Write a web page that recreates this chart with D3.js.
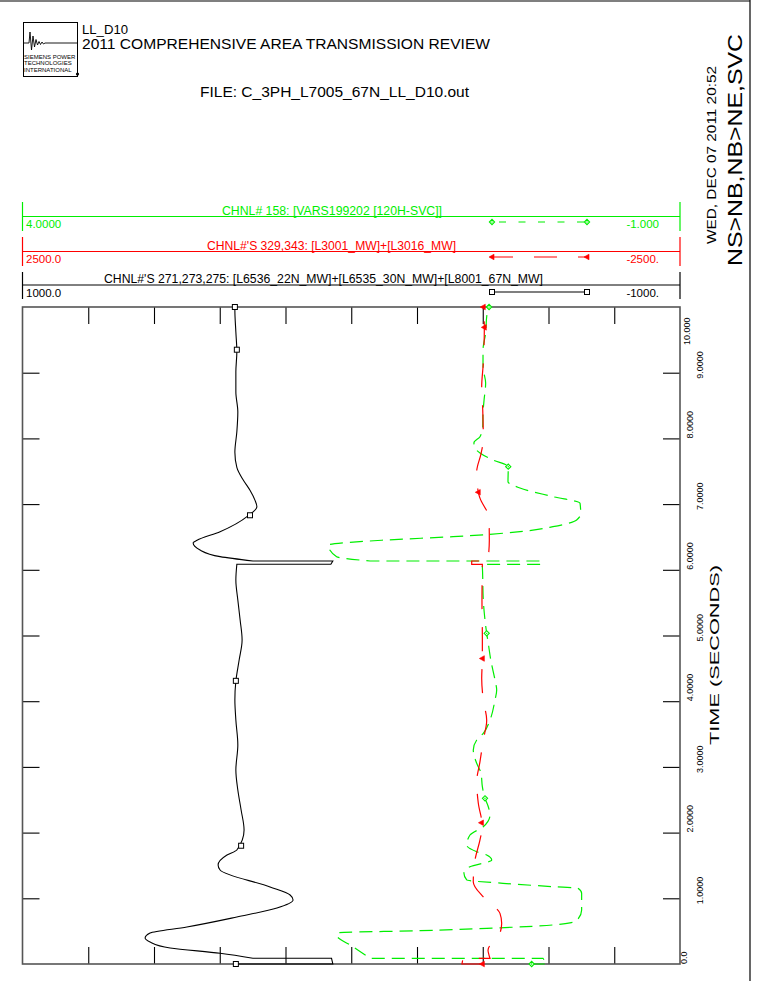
<!DOCTYPE html>
<html><head><meta charset="utf-8">
<script src="https://cdn.jsdelivr.net/npm/d3@7"></script>
<style>
html,body{margin:0;padding:0;background:#fff;}
svg{display:block;font-family:"Liberation Sans",Arial,Helvetica,sans-serif;}
</style>
</head><body>
<svg id="c" width="764" height="981"></svg>
<script>
// ---------------- DATA ----------------
const timeTicks = [0,1,2,3,4,5,6,7,8,9,10];
const timeTickLabels = ["0.0","1.0000","2.0000","3.0000","4.0000","5.0000","6.0000","7.0000","8.0000","9.0000","10.000"];

// Channel 1 (black): sum of three line flows, MW ; scale 1000 .. -1000
const blackT = [0,0,0.087,0.087,0.163,0.244,0.335,0.396,0.472,0.563,0.715,0.852,0.974,1.050,1.172,1.431,1.507,1.659,1.735,
  2.04,2.344,2.648,2.953,3.333,3.714,4.018,4.307,4.627,4.932,5.236,5.540,5.845,6.084,6.084,6.134,6.134,
  6.20,6.30,6.41,6.45,6.58,6.82,6.96,7.06,7.21,7.37,7.56,7.79,8.10,8.40,8.71,9.01,9.32,9.62,9.95,10];
const blackV = [351,56,60,299,399,551,612,627,612,500,348,226,177,186,247,399,405,378,348,
  326,335,345,351,345,351,354,351,341,332,338,345,351,348,62,56,299,
  399,460,481,469,399,314,287,293,308,329,348,354,348,345,351,351,348,351,354,354];
const blackMarkT = [0,1.80,4.31,6.83,9.35,10];
const blackMarkV = [351,335,351,308,348,354];

// Channel 2 (red): L3001 + L3016 MW ; scale 2500 .. -2500
const redT = [0,0,0.087,0.087,0.14,0.21,0.47,0.62,0.77,1.02,1.25,1.58,1.89,2.09,2.45,2.77,3.08,3.41,3.71,4.02,4.35,4.65,4.98,5.54,6.084,6.084,6.134,6.134,
  6.45,6.79,7.09,7.18,7.49,7.77,7.98,8.43,8.79,9.14,9.69,10];
const redV = [-997,-842,-850,-1055,-1047,-1040,-1131,-1144,-1131,-1004,-928,-941,-979,-997,-966,-954,-979,-1004,-1030,-1004,-992,-997,-997,-994,-997,-916,-916,-1040,
  -1050,-1047,-979,-966,-954,-987,-1004,-1000,-992,-1004,-1012,-1004];
const redMarkT = [0,2.15,4.65,7.18,9.69,10];
const redMarkV = [-997,-990,-997,-966,-1012,-1004];

// Channel 3 (green): VARS 199202 SVC ; scale 4 .. -1
const greenT = [0,0,0.087,0.087,0.263,0.441,0.476,0.507,0.543,0.594,0.659,0.822,1.076,1.152,1.177,1.228,1.279,1.381,1.481,1.583,1.659,1.709,1.811,1.963,
  2.090,2.268,2.394,2.522,2.699,2.903,3.055,3.257,3.409,3.511,3.714,4.018,4.170,4.323,4.627,4.881,5.033,5.236,5.540,6.047,6.084,
  6.084,6.134,6.134,6.20,6.377,6.454,6.504,6.58,6.656,6.758,6.86,7.012,7.113,7.245,7.341,7.569,7.671,7.778,7.854,7.935,8.026,8.178,8.387,8.584,8.843,9.091,9.346,9.604,9.852,10];
const greenV = [0.128,0.014,0.042,1.357,1.487,1.611,1.601,0.977,0.470,-0.034,-0.214,-0.252,-0.252,-0.224,-0.034,0.346,0.622,0.643,0.597,0.432,0.470,0.546,0.622,0.597,
  0.496,0.445,0.458,0.483,0.503,0.513,0.546,0.572,0.546,0.496,0.445,0.407,0.394,0.407,0.439,0.458,0.470,0.483,0.496,0.503,0.506,
  0.049,0.057,1.357,1.611,1.675,1.230,0.726,0.217,-0.034,-0.214,-0.245,-0.240,-0.034,0.217,0.308,0.306,0.422,0.521,0.559,0.567,0.521,0.500,0.498,0.490,0.478,0.498,0.498,0.478,0.470,0.452];
const greenMarkT = [0,2.522,5.033,7.569,10];
const greenMarkV = [0.128,0.483,0.470,0.306,0.452];

const channelTitles = ["CHNL# 158: [VARS199202 [120H-SVC]]","CHNL#'S 329,343: [L3001_MW]+[L3016_MW]","CHNL#'S 271,273,275: [L6536_22N_MW]+[L6535_30N_MW]+[L8001_67N_MW]"];
const channelMax = ["4.0000","2500.0","1000.0"];
const channelMin = ["-1.000","-2500.","-1000."];

// ---------------- DRAW ----------------
const svg = d3.select("#c");
const FONT = '"Liberation Sans",Arial,sans-serif';
const L = 22.5, R = 680, T = 307, B = 964;
const y = d3.scaleLinear().domain([0,10]).range([B,T]);
const xB = d3.scaleLinear().domain([1000,-1000]).range([L,R]);
const xR = d3.scaleLinear().domain([2500,-2500]).range([L,R]);
const xG = d3.scaleLinear().domain([4,-1]).range([L,R]);
const GREEN = "#00ee00", RED = "#ff0000";

// page border
svg.append("line").attr("x1",0).attr("x2",750).attr("y1",1).attr("y2",1).attr("stroke","#000").attr("stroke-width",1.2);
svg.append("line").attr("x1",750).attr("x2",750).attr("y1",0).attr("y2",981).attr("stroke","#000").attr("stroke-width",1.2);

// logo
const logo = svg.append("g");
logo.append("rect").attr("x",23.5).attr("y",22.5).attr("width",54).attr("height",54).attr("fill","none").attr("stroke","#000").attr("stroke-width",1);
logo.append("path").attr("d","M23.5,43 L29,43 L30,32 L31.5,50 L33,36 L34.5,47 L36,39.5 L37.5,45 L39,41.5 L40.5,44.5 L42,42 L43.5,44 L45,43 L77.5,43").attr("fill","none").attr("stroke","#000").attr("stroke-width",0.9);
["SIEMENS POWER","TECHNOLOGIES","INTERNATIONAL"].forEach((s,i)=>{
  logo.append("text").attr("x",24).attr("y",59+i*6.3).attr("font-size",6).attr("font-family",FONT).text(s);
});
logo.append("circle").attr("cx",77.5).attr("cy",74).attr("r",1.6).attr("fill","#000");

// header texts
function txt(s,x,yy,size,len,color,anchor){
  const t = svg.append("text").attr("x",x).attr("y",yy).attr("font-size",size).attr("font-family",FONT).attr("fill",color||"#000").text(s);
  if(anchor) t.attr("text-anchor",anchor);
  if(len) t.attr("textLength",len).attr("lengthAdjust","spacingAndGlyphs");
  return t;
}
txt("LL_D10",82,34,13.5,46);
txt("2011 COMPREHENSIVE AREA TRANSMISSION REVIEW",82,48.5,14,408);
txt("FILE: C_3PH_L7005_67N_LL_D10.out",200,97,14,269);

// rotated right texts
function rtxt(s,x,yy,size,len){
  const t = svg.append("text").attr("transform",`translate(${x},${yy}) rotate(-90)`).attr("font-size",size).attr("font-family",FONT).text(s);
  if(len) t.attr("textLength",len).attr("lengthAdjust","spacingAndGlyphs");
  return t;
}
rtxt("WED, DEC 07 2011  20:52",716,244,12,178);
rtxt("NS>NB,NB>NE,SVC",742,266,19.5,232);
rtxt("TIME (SECONDS)",719,745,13.5,180);

// legend bands
const bands = [
  {top:202, line:216.5, bot:231, color:GREEN, tx:222, tl:220},
  {top:237, line:251.5, bot:266, color:RED,   tx:207, tl:249},
  {top:272, line:285,   bot:299, color:"#000", tx:104, tl:439}
];
bands.forEach((b,i)=>{
  svg.append("line").attr("x1",L).attr("x2",L).attr("y1",b.top).attr("y2",b.bot).attr("stroke",b.color).attr("stroke-width",1.2);
  svg.append("line").attr("x1",R).attr("x2",R).attr("y1",b.top).attr("y2",b.bot).attr("stroke",b.color).attr("stroke-width",1.2);
  svg.append("line").attr("x1",L).attr("x2",R).attr("y1",b.line).attr("y2",b.line).attr("stroke",b.color).attr("stroke-width",1);
  txt(channelTitles[i],b.tx,b.line-2,12,b.tl,b.color);
  txt(channelMax[i],26,b.line+11.5,11.5,null,b.color);
  txt(channelMin[i],659,b.line+11.5,11.5,null,b.color,"end");
});

// marker symbols
function diamond(g,x,yy,color){
  g.append("path").attr("d",`M${x-2.6},${yy} L${x},${yy-2.6} L${x+2.6},${yy} L${x},${yy+2.6} Z`).attr("fill","#fff").attr("stroke",color).attr("stroke-width",1.1);
  g.append("circle").attr("cx",x).attr("cy",yy).attr("r",0.7).attr("fill",color);
}
function tri(g,x,yy,color){
  g.append("path").attr("d",`M${x-3},${yy} L${x+2},${yy-2.8} L${x+2},${yy+2.8} Z`).attr("fill",color).attr("stroke",color).attr("stroke-width",0.6);
}
function square(g,x,yy,color){
  g.append("rect").attr("x",x-2.5).attr("y",yy-2.5).attr("width",5).attr("height",5).attr("fill","#fff").attr("stroke",color).attr("stroke-width",1);
}

// legend samples
const lg = svg.append("g");
lg.append("line").attr("x1",492).attr("x2",587).attr("y1",222).attr("y2",222).attr("stroke",GREEN).attr("stroke-width",1.2).attr("stroke-dasharray","0,7,7,5.5");
diamond(lg,492,222,GREEN); diamond(lg,587,222,GREEN);
lg.append("line").attr("x1",490).attr("x2",588).attr("y1",257).attr("y2",257).attr("stroke",RED).attr("stroke-width",1.2).attr("stroke-dasharray","23,21");
tri(lg,492,257,RED); tri(lg,587,257,RED);
lg.append("line").attr("x1",492).attr("x2",587).attr("y1",292).attr("y2",292).attr("stroke","#000").attr("stroke-width",1.1);
square(lg,492,292,"#000"); square(lg,587,292,"#000");

// axes ticks (value direction: 10 divisions; time: 1 s)
const tickVals = d3.range(-800,1000,200);
const ax = svg.append("g").attr("class","axes");
ax.append("g").attr("transform",`translate(0,${T})`).call(d3.axisTop(xB).tickValues(tickVals).tickSize(-17).tickFormat(""));
ax.append("g").attr("transform",`translate(0,${B})`).call(d3.axisBottom(xB).tickValues(tickVals).tickSize(-17).tickFormat(""));
ax.append("g").attr("transform",`translate(${L},0)`).call(d3.axisLeft(y).tickValues(timeTicks.slice(1,10)).tickSize(-17).tickFormat(""));
ax.append("g").attr("transform",`translate(${R},0)`).call(d3.axisRight(y).tickValues(timeTicks.slice(1,10)).tickSize(-17).tickFormat(""));
ax.selectAll(".domain").remove();
ax.selectAll(".tick line").attr("stroke","#000").attr("stroke-width",1.1);

// frame
svg.append("rect").attr("x",L).attr("y",T).attr("width",R-L).attr("height",B-T).attr("fill","none").attr("stroke","#555").attr("stroke-width",1.6);

// time labels
timeTicks.forEach((t,i)=>{
  let bx, by;
  if(i===10){ bx = 690; by = 345; }
  else if(i===0){ bx = 687; by = y(t); }
  else if(i%2===0){ bx = 692.5; by = y(t); }
  else { bx = 703; by = y(t)+6; }
  svg.append("text").attr("transform",`translate(${bx},${by}) rotate(-90)`).attr("font-size",9).attr("font-family",FONT).text(timeTickLabels[i]);
});

// curves
function pathFor(ts,vs,xs){
  const pts = ts.map((t,i)=>[xs(vs[i]), y(t)]);
  const segs = [[pts[0]]];
  for(let i=1;i<pts.length;i++){
    if(ts[i]===ts[i-1]) segs.push([pts[i]]); else segs[segs.length-1].push(pts[i]);
  }
  const line = d3.line().curve(d3.curveMonotoneY);
  let d = "";
  segs.forEach((s,k)=>{
    let sd = s.length>1 ? line(s) : `M${s[0][0]},${s[0][1]}`;
    if(k>0) sd = "L" + sd.slice(1);
    d += sd;
  });
  return d;
}
const plot = svg.append("g");
plot.append("path").attr("d",pathFor(blackT,blackV,xB)).attr("fill","none").attr("stroke","#000").attr("stroke-width",1.1);
plot.append("path").attr("d",pathFor(greenT,greenV,xG)).attr("fill","none").attr("stroke",GREEN).attr("stroke-width",1.2).attr("stroke-dasharray","13,7");
plot.append("path").attr("d",pathFor(redT,redV,xR)).attr("fill","none").attr("stroke",RED).attr("stroke-width",1.2).attr("stroke-dasharray","24,18");

blackMarkT.forEach((t,i)=>square(plot,xB(blackMarkV[i]),y(t),"#000"));
redMarkT.forEach((t,i)=>tri(plot,xR(redMarkV[i]),y(t),RED));
greenMarkT.forEach((t,i)=>diamond(plot,xG(greenMarkV[i]),y(t),GREEN));
</script>
</body></html>
